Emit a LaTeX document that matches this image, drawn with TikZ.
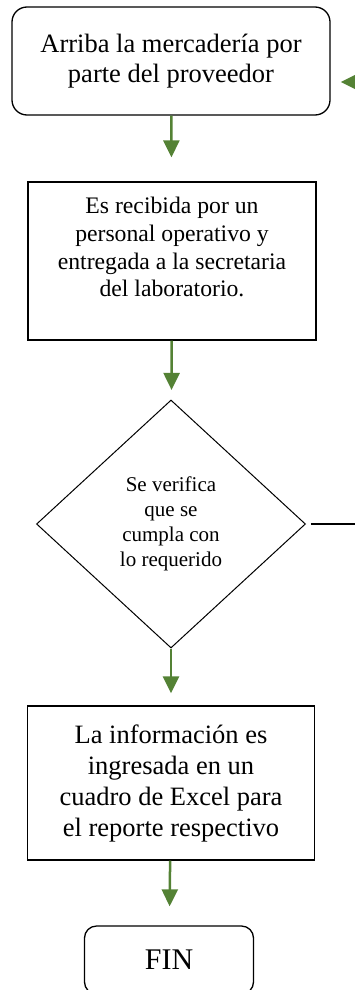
\documentclass[tikz,border=0pt]{standalone}
\usepackage{fontspec}
\setmainfont{Liberation Serif}
\usetikzlibrary{arrows.meta, shapes.geometric}
\definecolor{verde}{RGB}{84,130,53}

\begin{document}
\begin{tikzpicture}[x=1pt, y=-1pt,
	caja/.style={draw, line width=1.3pt, align=center, inner sep=0pt},
	decision/.style={draw, diamond, line width=1pt, align=center, inner sep=0pt},
	flecha/.style={-{Triangle[length=17pt, width=16pt]}, verde, line width=2.5pt}]
	\useasboundingbox (0,0) rectangle (355,990);
	\clip (0,0) rectangle (355,990);
	\node[caja, rounded corners=15pt, minimum width=318pt, minimum height=108pt, font=\fontsize{26.5}{29.5}\selectfont] (arriba) at (171,61) {Arriba la mercadería por\\parte del proveedor};
	\node[caja, minimum width=288pt, minimum height=158pt, font=\fontsize{23.7}{27.7}\selectfont] (recibida) at (172,261) {Es recibida por un\\personal operativo y\\entregada a la secretaria\\del laboratorio.\\ \mbox{}};
	\node[decision, minimum width=269pt, minimum height=248pt, font=\fontsize{21}{25}\selectfont] (verifica) at (171,524) {Se verifica\\que se\\cumpla con\\lo requerido};
	\node[caja, minimum width=287pt, minimum height=154pt, font=\fontsize{26.5}{31}\selectfont] (informe) at (171,783) {La información es\\ingresada en un\\cuadro de Excel para\\el reporte respectivo};
	\node[caja, rounded corners=12pt, minimum width=169pt, minimum height=68pt, font=\fontsize{30}{34}\selectfont] (fin) at (169,960) {FIN};
	\draw[flecha, shorten >=24pt] (arriba) -- (recibida);
	\draw[flecha, shorten >=10pt] (recibida) -- (verifica);
	\draw[flecha, shorten >=12pt] (verifica) -- (informe);
	\draw[flecha, shorten >=19pt] (informe) -- (fin);
	\coordinate (vuelta) at (380,524);
	\coordinate (retorno) at (380,82);
	\coordinate (entrada) at ([yshift=-21pt]arriba.east);
	\draw[line width=1.2pt, shorten <=5pt] (verifica) -- (vuelta);
	\draw[flecha, shorten >=10pt] (retorno) -- (entrada);
\end{tikzpicture}
\end{document}
